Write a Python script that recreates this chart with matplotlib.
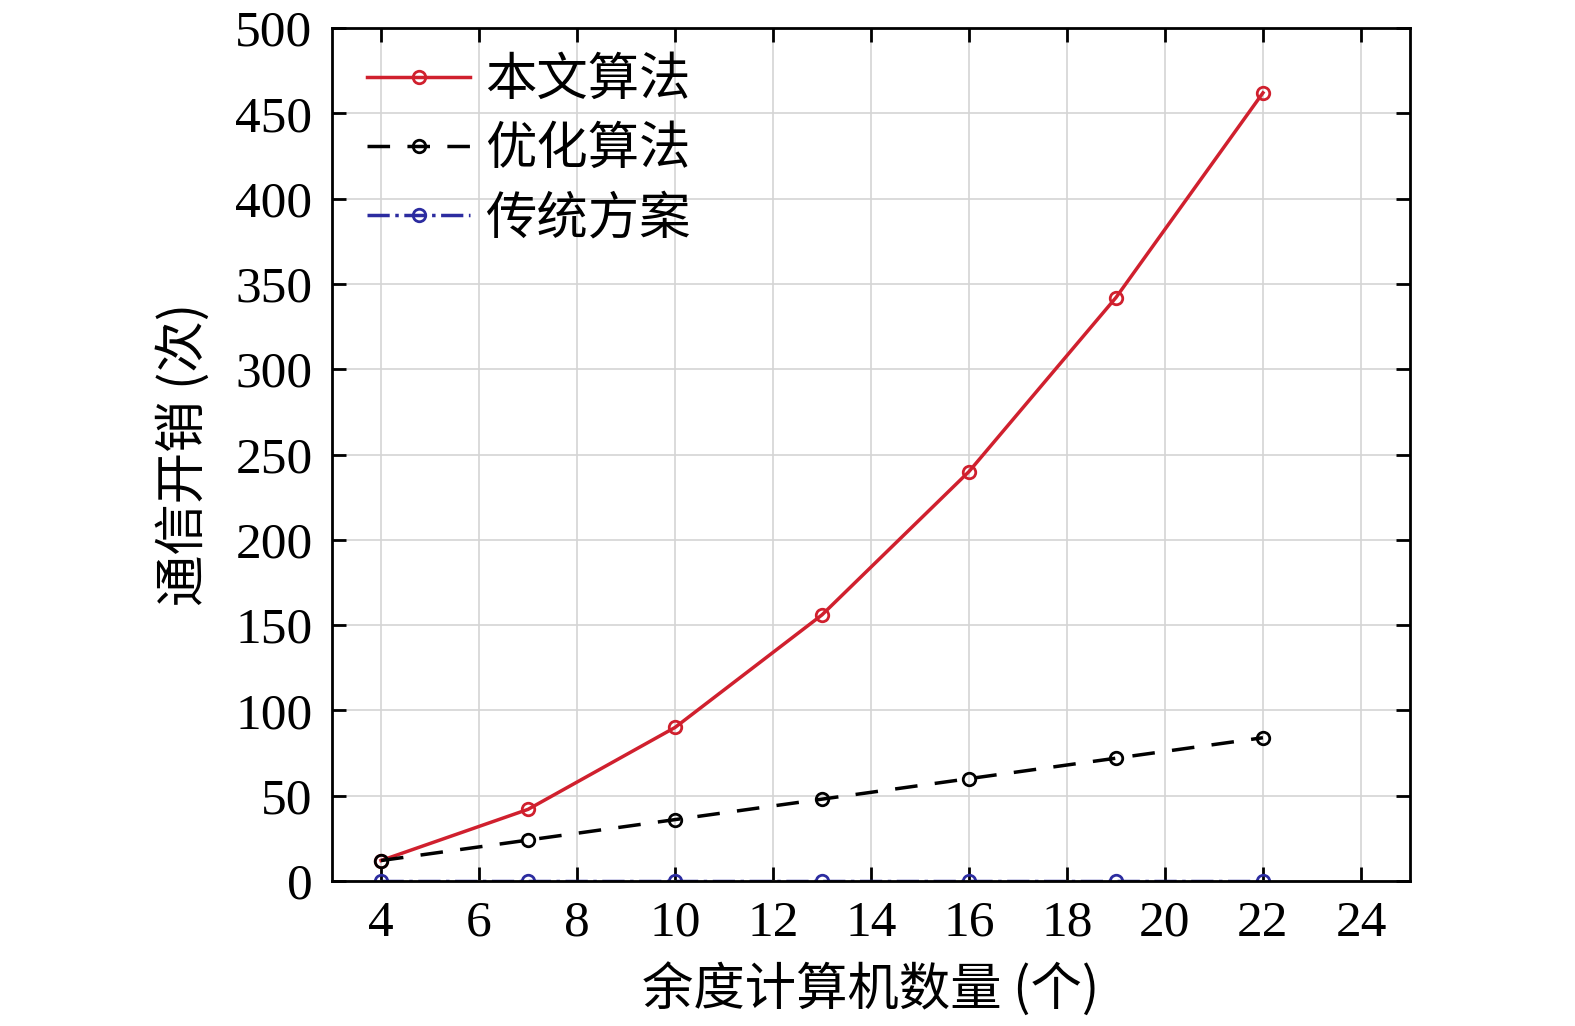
import matplotlib
matplotlib.use('Agg')
import matplotlib.pyplot as plt

plt.rcParams['font.family'] = ['Liberation Serif', 'Noto Sans CJK SC', 'DejaVu Sans']
plt.rcParams['axes.unicode_minus'] = False

# 余度计算机数量
x = [4, 7, 10, 13, 16, 19, 22]
# 通信开销
ours = [12, 42, 90, 156, 240, 342, 462]
optimized = [12, 24, 36, 48, 60, 72, 84]
traditional = [0, 0, 0, 0, 0, 0, 0]

xticks = [4, 6, 8, 10, 12, 14, 16, 18, 20, 22, 24]
yticks = [0, 50, 100, 150, 200, 250, 300, 350, 400, 450, 500]

cjk = ['Noto Sans CJK SC', 'DejaVu Sans']

fig = plt.figure(figsize=(15.75, 10.26), dpi=100)
ax = fig.add_axes([0.2108, 0.1413, 0.6844, 0.8314])

ax.plot(x, ours, '-', color='#d0202e', lw=2.5, marker='o', ms=9, mfc='none',
        mew=2, label='本文算法', clip_on=False, zorder=3)
ax.plot(x, optimized, '--', color='black', lw=2.5, dashes=(6.5, 5), marker='o', ms=9,
        mfc='none', mew=2, label='优化算法', clip_on=False, zorder=3)
ax.plot(x, traditional, '-.', color='#2c2ca0', lw=2.5, marker='o', ms=9, mfc='none',
        mew=2, label='传统方案', zorder=2)

ax.set_xlim(3, 25)
ax.set_ylim(0, 500)
ax.set_xticks(xticks)
ax.set_yticks(yticks)
ax.grid(True, color='#d4d4d4', lw=1.2)
ax.tick_params(direction='in', length=10, width=2, labelsize=37, pad=14,
               top=True, right=True)
for s in ax.spines.values():
    s.set_linewidth(2)

ax.set_xlabel('余度计算机数量 (个)', fontsize=37, family=cjk, labelpad=12)
ax.set_ylabel('通信开销 (次)', fontsize=37, family=cjk, labelpad=18)

leg = ax.legend(loc='upper left', bbox_to_anchor=(0.016, 0.991),
                prop={'family': cjk, 'size': 37}, frameon=False,
                handlelength=2.0, handletextpad=0.3, labelspacing=0.3,
                borderaxespad=0.15, borderpad=0.2)

fig.savefig('out.png', dpi=100)
